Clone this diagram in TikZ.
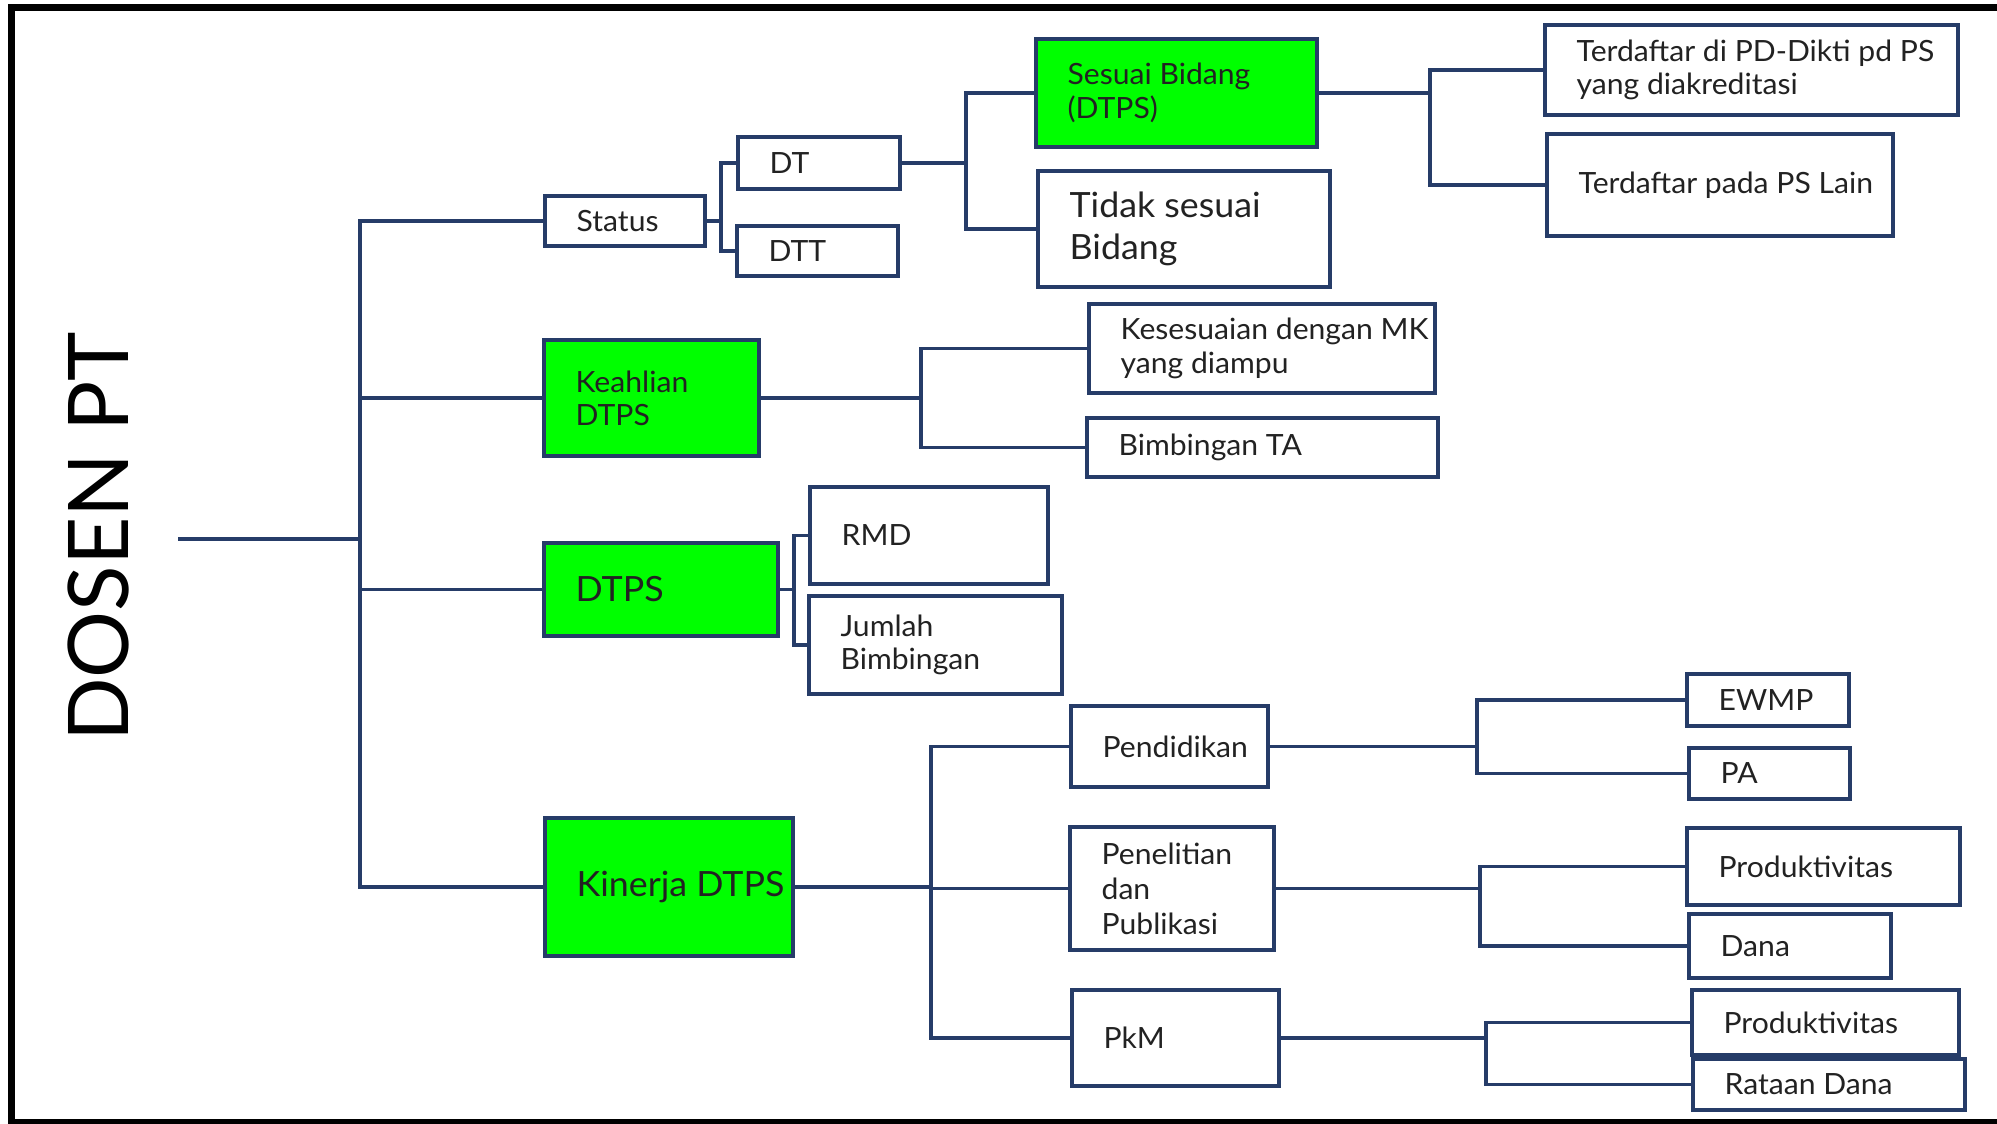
\documentclass[tikz,border=0pt]{standalone}
\usepackage{fontspec}
\setmainfont{Lato}[FakeStretch=1.03]
\newfontfamily\bigfont{Lato}
\usetikzlibrary{fit}
\definecolor{navy}{HTML}{263C68}
\definecolor{boxgreen}{HTML}{00FF00}
\definecolor{txt}{HTML}{222222}
\tikzset{
  wbox/.style={draw=navy, line width=1.5pt, fill=white, inner sep=0pt},
  gbox/.style={wbox, fill=boxgreen},
  conn/.style={draw=navy, line width=1.4pt},
  lbl/.style={anchor=west, inner sep=0pt, text=txt, align=left, font=\fontsize{11.7}{13.3}\selectfont},
  lblL/.style={lbl, font=\fontsize{13.9}{16}\selectfont},
  frame/.style={draw=black, line width=2.8pt},
}
\begin{document}
\begin{tikzpicture}[x=0.4pt,y=-0.4pt]
\useasboundingbox (0,0) rectangle (1997,1124);
\fill[white] (0,0) rectangle (1997,1124);
% frame
\draw[frame] (2100,8) -- (11,8) -- (11,1122) -- (2100,1122);

% title
\node[rotate=90, inner sep=0pt, font=\bigfont\fontsize{33.5}{40}\selectfont, text=black] (dosen) at (98,537) {DOSEN PT};
\coordinate (root) at (178,539);
\coordinate (trunk) at (360,539);

% boxes
\node[wbox, fit={(545,196) (705,246)}] (status) {};
\node[wbox, fit={(738,137) (900,189)}] (dt) {};
\node[wbox, fit={(737,226) (898,276)}] (dtt) {};
\node[gbox, fit={(1036,39) (1317,147)}] (sesuai) {};
\node[wbox, fit={(1038,171) (1330,287)}] (tidak) {};
\node[wbox, fit={(1545,25) (1958,115)}] (terd1) {};
\node[wbox, fit={(1547,134) (1893,236)}] (terd2) {};
\node[gbox, fit={(544,340) (759,456)}] (keahlian) {};
\node[wbox, fit={(1089,304) (1435,393)}] (kes) {};
\node[wbox, fit={(1087,418) (1438,477)}] (bimb) {};
\node[gbox, fit={(544,543) (778,636)}] (dtps) {};
\node[wbox, fit={(810,487) (1048,584)}] (rmd) {};
\node[wbox, fit={(809,596) (1062,694)}] (jml) {};
\node[gbox, fit={(545,818) (793,956)}] (kinerja) {};
\node[wbox, fit={(1071,706) (1268,787)}] (pend) {};
\node[wbox, fit={(1070,827) (1274,950)}] (pen) {};
\node[wbox, fit={(1072,990) (1279,1086)}] (pkm) {};
\node[wbox, fit={(1687,674) (1849,726)}] (ewmp) {};
\node[wbox, fit={(1689,748) (1850,799)}] (pa) {};
\node[wbox, fit={(1687,828) (1960,905)}] (prod1) {};
\node[wbox, fit={(1689,914) (1891,978)}] (dana) {};
\node[wbox, fit={(1692,990) (1959,1055)}] (prod2) {};
\node[wbox, fit={(1693,1059) (1965,1110)}] (rataan) {};

% labels
\node[lbl] (status-t) at ([xshift=13.2pt]status.west) {Status};
\node[lbl] (dt-t) at ([xshift=13.2pt]dt.west) {DT};
\node[lbl] (dtt-t) at ([xshift=13.2pt]dtt.west) {DTT};
\node[lbl] (sesuai-t) at ([xshift=13.2pt]sesuai.west) {Sesuai Bidang\\(DTPS)};
\node[lblL, font=\fontsize{13.9}{17}\selectfont] (tidak-t) at ([xshift=13.2pt]tidak.west) {Tidak sesuai\\Bidang};
\node[lbl] (terd1-t) at ([xshift=13.2pt]terd1.west) {Terdaftar di PD-Dikti pd PS\\yang diakreditasi};
\node[lbl] (terd2-t) at ([xshift=13.2pt]terd2.west) {Terdaftar pada PS Lain};
\node[lbl] (keahlian-t) at ([xshift=13.2pt]keahlian.west) {Keahlian\\DTPS};
\node[lbl] (kes-t) at ([xshift=13.2pt]kes.west) {Kesesuaian dengan MK\\yang diampu};
\node[lbl] (bimb-t) at ([xshift=13.2pt]bimb.west) {Bimbingan TA};
\node[lblL] (dtps-t) at ([xshift=13.2pt]dtps.west) {DTPS};
\node[lbl] (rmd-t) at ([xshift=13.2pt]rmd.west) {RMD};
\node[lbl] (jml-t) at ([xshift=13.2pt]jml.west) {Jumlah\\Bimbingan};
\node[lblL] (kinerja-t) at ([xshift=13.2pt]kinerja.west) {Kinerja DTPS};
\node[lbl] (pend-t) at ([xshift=13.2pt]pend.west) {Pendidikan};
\node[lbl, font=\fontsize{11.7}{14}\selectfont] (pen-t) at ([xshift=13.2pt]pen.west) {Penelitian\\dan\\Publikasi};
\node[lbl] (pkm-t) at ([xshift=13.2pt]pkm.west) {PkM};
\node[lbl] (ewmp-t) at ([xshift=13.2pt]ewmp.west) {EWMP};
\node[lbl] (pa-t) at ([xshift=13.2pt]pa.west) {PA};
\node[lbl] (prod1-t) at ([xshift=13.2pt]prod1.west) {Produktivitas};
\node[lbl] (dana-t) at ([xshift=13.2pt]dana.west) {Dana};
\node[lbl] (prod2-t) at ([xshift=13.2pt]prod2.west) {Produktivitas};
\node[lbl] (rataan-t) at ([xshift=13.2pt]rataan.west) {Rataan Dana};

% bus coordinates
\coordinate (b1) at (721,0);
\coordinate (b2) at (966,0);
\coordinate (b3) at (1430,0);
\coordinate (b4) at (921,0);
\coordinate (b5) at (794,0);
\coordinate (b6) at (931,0);
\coordinate (b7) at (1477,0);
\coordinate (b8) at (1480,0);
\coordinate (b9) at (1486,0);

% connectors
\draw[conn] (root) -- (trunk);
\draw[conn] (status.west) -| (trunk |- kinerja.west) -- (kinerja.west);
\draw[conn] (trunk |- keahlian.west) -- (keahlian.west);
\draw[conn] (trunk |- dtps.west) -- (dtps.west);

\draw[conn] (status.east) -- (b1 |- status.east);
\draw[conn] (dt.west) -| (b1 |- dtt.west) -- (dtt.west);

\draw[conn] (dt.east) -- (b2 |- dt.east);
\draw[conn] (sesuai.west) -| (b2 |- tidak.west) -- (tidak.west);

\draw[conn] (sesuai.east) -- (b3 |- sesuai.east);
\draw[conn] (terd1.west) -| (b3 |- terd2.west) -- (terd2.west);

\draw[conn] (keahlian.east) -- (b4 |- keahlian.east);
\draw[conn] (kes.west) -| (b4 |- bimb.west) -- (bimb.west);

\draw[conn] (dtps.east) -- (b5 |- dtps.east);
\draw[conn] (rmd.west) -| (b5 |- jml.west) -- (jml.west);

\draw[conn] (kinerja.east) -- (b6 |- kinerja.east);
\draw[conn] (pend.west) -| (b6 |- pkm.west) -- (pkm.west);
\draw[conn] (b6 |- pen.west) -- (pen.west);

\draw[conn] (pend.east) -- (b7 |- pend.east);
\draw[conn] (ewmp.west) -| (b7 |- pa.west) -- (pa.west);

\draw[conn] (pen.east) -- (b8 |- pen.east);
\draw[conn] (prod1.west) -| (b8 |- dana.west) -- (dana.west);

\draw[conn] (pkm.east) -- (b9 |- pkm.east);
\draw[conn] (prod2.west) -| (b9 |- rataan.west) -- (rataan.west);
\end{tikzpicture}
\end{document}
